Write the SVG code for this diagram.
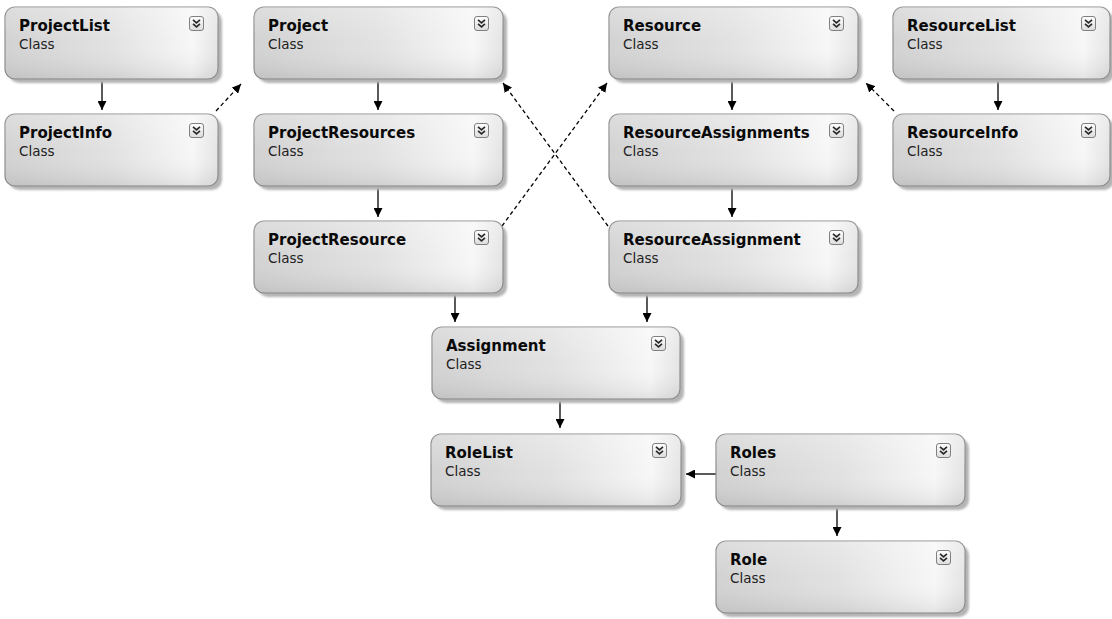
<svg xmlns="http://www.w3.org/2000/svg" width="1112" height="619" viewBox="0 0 1112 619">
<style>
.box{fill:url(#gh);stroke:#8e8e8e;stroke-width:1.2}
.shade{fill:url(#gv)}
.shadow{fill:#b4b4b4;filter:url(#blur)}
.title{font-family:"DejaVu Sans",Verdana,sans-serif;font-weight:bold;font-size:15px;fill:#0a0a0a}
.sub{font-family:"DejaVu Sans",Verdana,sans-serif;font-size:13.5px;fill:#222}
.conn{stroke:#000;stroke-width:1.3;fill:none;marker-end:url(#arr)}
.dash{stroke-dasharray:4 3}
</style>
<defs>
<linearGradient id="gh" x1="0" y1="0" x2="1" y2="0">
<stop offset="0" stop-color="#d2d2d2"/>
<stop offset="0.5" stop-color="#e2e2e2"/>
<stop offset="0.88" stop-color="#f7f7f7"/>
<stop offset="1" stop-color="#e4e4e4"/>
</linearGradient>
<linearGradient id="gv" x1="0" y1="0" x2="0" y2="1">
<stop offset="0" stop-color="#ffffff" stop-opacity="0.25"/>
<stop offset="0.5" stop-color="#ffffff" stop-opacity="0"/>
<stop offset="1" stop-color="#000000" stop-opacity="0.08"/>
</linearGradient>
<linearGradient id="gi" x1="0" y1="0" x2="0" y2="1">
<stop offset="0" stop-color="#ffffff"/>
<stop offset="1" stop-color="#dcdcdc"/>
</linearGradient>
<filter id="blur" x="-10%" y="-10%" width="120%" height="130%"><feGaussianBlur stdDeviation="1.2"/></filter>
<marker id="arr" viewBox="0 0 10 10" refX="10" refY="5" markerWidth="9" markerHeight="9" markerUnits="userSpaceOnUse" orient="auto">
<path d="M0,0 L10,5 L0,10 z" fill="#000"/>
</marker>
<symbol id="icon" viewBox="0 0 15 15" width="15" height="15" overflow="visible">
<rect x="0.5" y="0.5" width="14" height="14" rx="2.5" fill="url(#gi)" stroke="#808080" stroke-width="1"/>
<path d="M4,3.8 L7.5,6.8 L11,3.8 M4,7.8 L7.5,10.8 L11,7.8" stroke="#2a2a2a" stroke-width="1.7" fill="none"/>
</symbol>
</defs>
<rect width="1112" height="619" fill="#ffffff"/>

<g id="connectors">
<line class="conn" x1="102" y1="80" x2="102" y2="110"/>
<line class="conn" x1="378" y1="80" x2="378" y2="110"/>
<line class="conn" x1="378" y1="187" x2="378" y2="217"/>
<line class="conn" x1="732" y1="80" x2="732" y2="110"/>
<line class="conn" x1="732" y1="187" x2="732" y2="217"/>
<line class="conn" x1="998" y1="80" x2="998" y2="110"/>
<line class="conn" x1="455" y1="293" x2="455" y2="322"/>
<line class="conn" x1="647" y1="293" x2="647" y2="322"/>
<line class="conn" x1="560" y1="400" x2="560" y2="428"/>
<line class="conn" x1="837" y1="507" x2="837" y2="536"/>
<line class="conn" x1="716" y1="474" x2="686" y2="474"/>
<line class="conn dash" x1="216" y1="111" x2="241" y2="84"/>
<line class="conn dash" x1="608" y1="226" x2="503" y2="83"/>
<line class="conn dash" x1="502" y1="226" x2="607" y2="83"/>
<line class="conn dash" x1="894" y1="111" x2="866" y2="83"/>
</g>

<g id="ProjectList" transform="translate(5,7)">
<rect class="shadow" x="4" y="4" width="213" height="72" rx="10"/>
<rect class="box" width="213" height="72" rx="10"/>
<rect class="shade" width="213" height="72" rx="10"/>
<text class="title" x="14" y="24">ProjectList</text>
<text class="sub" x="14" y="42">Class</text>
<use href="#icon" x="184" y="9"/>
</g>
<g id="ProjectInfo" transform="translate(5,114)">
<rect class="shadow" x="4" y="4" width="213" height="72" rx="10"/>
<rect class="box" width="213" height="72" rx="10"/>
<rect class="shade" width="213" height="72" rx="10"/>
<text class="title" x="14" y="24">ProjectInfo</text>
<text class="sub" x="14" y="42">Class</text>
<use href="#icon" x="184" y="9"/>
</g>
<g id="Project" transform="translate(254,7)">
<rect class="shadow" x="4" y="4" width="249" height="72" rx="10"/>
<rect class="box" width="249" height="72" rx="10"/>
<rect class="shade" width="249" height="72" rx="10"/>
<text class="title" x="14" y="24">Project</text>
<text class="sub" x="14" y="42">Class</text>
<use href="#icon" x="220" y="9"/>
</g>
<g id="ProjectResources" transform="translate(254,114)">
<rect class="shadow" x="4" y="4" width="249" height="72" rx="10"/>
<rect class="box" width="249" height="72" rx="10"/>
<rect class="shade" width="249" height="72" rx="10"/>
<text class="title" x="14" y="24">ProjectResources</text>
<text class="sub" x="14" y="42">Class</text>
<use href="#icon" x="220" y="9"/>
</g>
<g id="ProjectResource" transform="translate(254,221)">
<rect class="shadow" x="4" y="4" width="249" height="72" rx="10"/>
<rect class="box" width="249" height="72" rx="10"/>
<rect class="shade" width="249" height="72" rx="10"/>
<text class="title" x="14" y="24">ProjectResource</text>
<text class="sub" x="14" y="42">Class</text>
<use href="#icon" x="220" y="9"/>
</g>
<g id="Resource" transform="translate(609,7)">
<rect class="shadow" x="4" y="4" width="249" height="72" rx="10"/>
<rect class="box" width="249" height="72" rx="10"/>
<rect class="shade" width="249" height="72" rx="10"/>
<text class="title" x="14" y="24">Resource</text>
<text class="sub" x="14" y="42">Class</text>
<use href="#icon" x="220" y="9"/>
</g>
<g id="ResourceAssignments" transform="translate(609,114)">
<rect class="shadow" x="4" y="4" width="249" height="72" rx="10"/>
<rect class="box" width="249" height="72" rx="10"/>
<rect class="shade" width="249" height="72" rx="10"/>
<text class="title" x="14" y="24">ResourceAssignments</text>
<text class="sub" x="14" y="42">Class</text>
<use href="#icon" x="220" y="9"/>
</g>
<g id="ResourceAssignment" transform="translate(609,221)">
<rect class="shadow" x="4" y="4" width="249" height="72" rx="10"/>
<rect class="box" width="249" height="72" rx="10"/>
<rect class="shade" width="249" height="72" rx="10"/>
<text class="title" x="14" y="24">ResourceAssignment</text>
<text class="sub" x="14" y="42">Class</text>
<use href="#icon" x="220" y="9"/>
</g>
<g id="ResourceList" transform="translate(893,7)">
<rect class="shadow" x="4" y="4" width="217" height="72" rx="10"/>
<rect class="box" width="217" height="72" rx="10"/>
<rect class="shade" width="217" height="72" rx="10"/>
<text class="title" x="14" y="24">ResourceList</text>
<text class="sub" x="14" y="42">Class</text>
<use href="#icon" x="188" y="9"/>
</g>
<g id="ResourceInfo" transform="translate(893,114)">
<rect class="shadow" x="4" y="4" width="217" height="72" rx="10"/>
<rect class="box" width="217" height="72" rx="10"/>
<rect class="shade" width="217" height="72" rx="10"/>
<text class="title" x="14" y="24">ResourceInfo</text>
<text class="sub" x="14" y="42">Class</text>
<use href="#icon" x="188" y="9"/>
</g>
<g id="Assignment" transform="translate(432,327)">
<rect class="shadow" x="4" y="4" width="248" height="72" rx="10"/>
<rect class="box" width="248" height="72" rx="10"/>
<rect class="shade" width="248" height="72" rx="10"/>
<text class="title" x="14" y="24">Assignment</text>
<text class="sub" x="14" y="42">Class</text>
<use href="#icon" x="219" y="9"/>
</g>
<g id="RoleList" transform="translate(431,434)">
<rect class="shadow" x="4" y="4" width="250" height="72" rx="10"/>
<rect class="box" width="250" height="72" rx="10"/>
<rect class="shade" width="250" height="72" rx="10"/>
<text class="title" x="14" y="24">RoleList</text>
<text class="sub" x="14" y="42">Class</text>
<use href="#icon" x="221" y="9"/>
</g>
<g id="Roles" transform="translate(716,434)">
<rect class="shadow" x="4" y="4" width="249" height="72" rx="10"/>
<rect class="box" width="249" height="72" rx="10"/>
<rect class="shade" width="249" height="72" rx="10"/>
<text class="title" x="14" y="24">Roles</text>
<text class="sub" x="14" y="42">Class</text>
<use href="#icon" x="220" y="9"/>
</g>
<g id="Role" transform="translate(716,541)">
<rect class="shadow" x="4" y="4" width="249" height="72" rx="10"/>
<rect class="box" width="249" height="72" rx="10"/>
<rect class="shade" width="249" height="72" rx="10"/>
<text class="title" x="14" y="24">Role</text>
<text class="sub" x="14" y="42">Class</text>
<use href="#icon" x="220" y="9"/>
</g>
</svg>
